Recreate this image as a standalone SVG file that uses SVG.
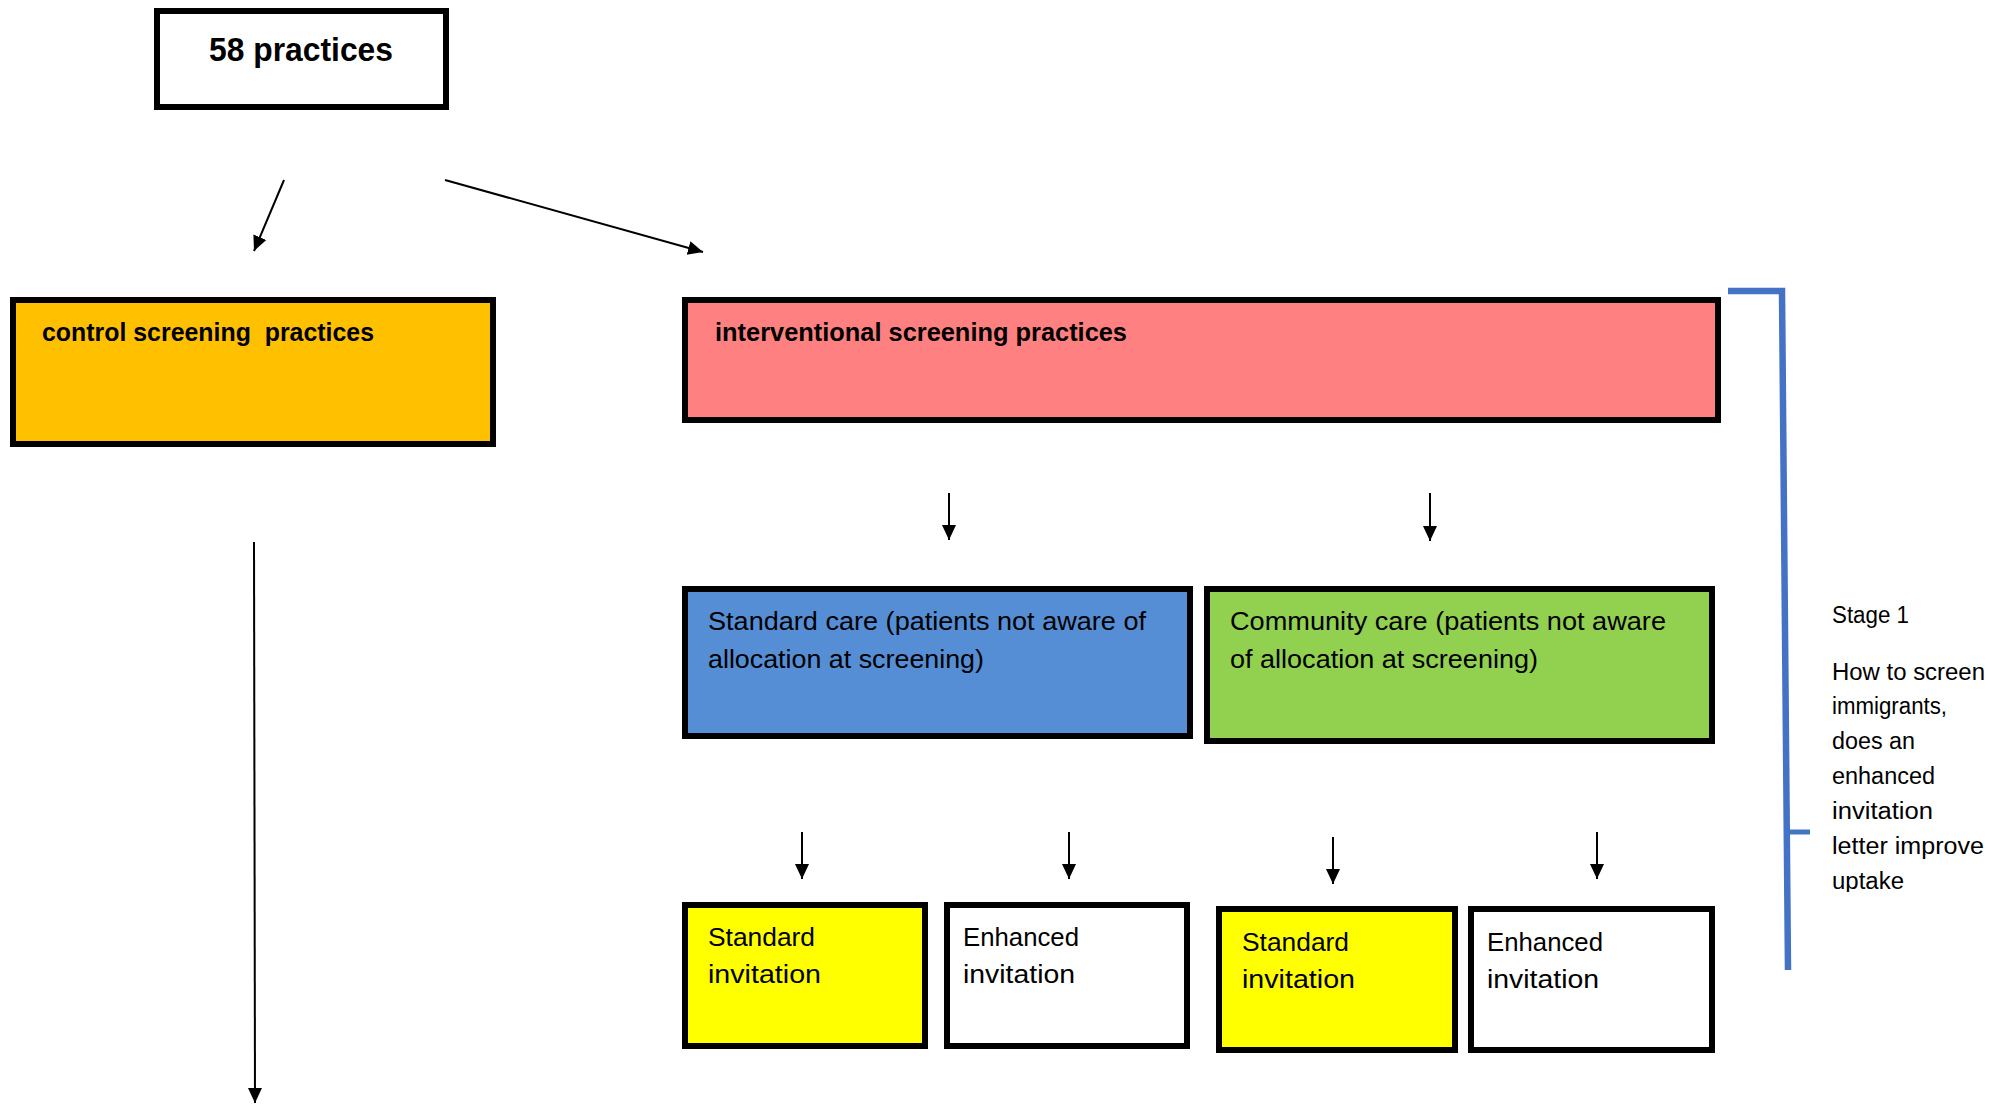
<svg xmlns="http://www.w3.org/2000/svg" width="1993" height="1105" viewBox="0 0 1993 1105">
<style>
.box{stroke:#000;stroke-width:6}
.t{font-family:"Liberation Sans",Arial,sans-serif;fill:#000;white-space:pre}
.b{font-weight:bold;font-size:26px}
.r{font-size:26.5px}
.s{font-size:23.5px}
.big{font-weight:bold;font-size:34px}
.con line{stroke:#000;stroke-width:2}
.br{stroke:#4472C4;fill:none}
</style>
<defs>
<marker id="ah" markerUnits="userSpaceOnUse" markerWidth="16" markerHeight="16" refX="15" refY="7" orient="auto" viewBox="0 0 16 14">
<path d="M0,0 L15,7 L0,14 z" fill="#000"/>
</marker>
<clipPath id="clipStage"><rect x="1820" y="590" width="173" height="302"/></clipPath>
</defs>
<rect width="1993" height="1105" fill="#fff"/>

<g id="n58">
<rect class="box" x="157" y="11" width="289" height="96" fill="#fff"/>
<text class="t big" x="209" y="61" textLength="184" lengthAdjust="spacingAndGlyphs">58 practices</text>
</g>

<g id="control">
<rect class="box" x="13" y="300" width="480" height="144" fill="#FFC000"/>
<text class="t b" x="42" y="341" textLength="332" lengthAdjust="spacingAndGlyphs" xml:space="preserve">control screening  practices</text>
</g>

<g id="interventional">
<rect class="box" x="685" y="300" width="1033" height="120" fill="#FF8080"/>
<text class="t b" x="715" y="341" textLength="412" lengthAdjust="spacingAndGlyphs">interventional screening practices</text>
</g>

<g id="standardCare">
<rect class="box" x="685" y="589" width="505" height="147" fill="#558ED5"/>
<text class="t r" x="708" y="630" textLength="438" lengthAdjust="spacingAndGlyphs">Standard care (patients not aware of</text>
<text class="t r" x="708" y="668" textLength="276" lengthAdjust="spacingAndGlyphs">allocation at screening)</text>
</g>

<g id="communityCare">
<rect class="box" x="1207" y="589" width="505" height="152" fill="#92D050"/>
<text class="t r" x="1230" y="630" textLength="436" lengthAdjust="spacingAndGlyphs">Community care (patients not aware</text>
<text class="t r" x="1230" y="668" textLength="308" lengthAdjust="spacingAndGlyphs">of allocation at screening)</text>
</g>

<g id="stdInv1">
<rect class="box" x="685" y="905" width="240" height="141" fill="#FFFF00"/>
<text class="t r" x="708" y="946" textLength="107" lengthAdjust="spacingAndGlyphs">Standard</text>
<text class="t r" x="708" y="983" textLength="113" lengthAdjust="spacingAndGlyphs">invitation</text>
</g>

<g id="enhInv1">
<rect class="box" x="947" y="905" width="240" height="141" fill="#fff"/>
<text class="t r" x="963" y="946" textLength="116" lengthAdjust="spacingAndGlyphs">Enhanced</text>
<text class="t r" x="963" y="983" textLength="112" lengthAdjust="spacingAndGlyphs">invitation</text>
</g>

<g id="stdInv2">
<rect class="box" x="1219" y="909" width="236" height="141" fill="#FFFF00"/>
<text class="t r" x="1242" y="951" textLength="107" lengthAdjust="spacingAndGlyphs">Standard</text>
<text class="t r" x="1242" y="988" textLength="113" lengthAdjust="spacingAndGlyphs">invitation</text>
</g>

<g id="enhInv2">
<rect class="box" x="1471" y="909" width="241" height="141" fill="#fff"/>
<text class="t r" x="1487" y="951" textLength="116" lengthAdjust="spacingAndGlyphs">Enhanced</text>
<text class="t r" x="1487" y="988" textLength="112" lengthAdjust="spacingAndGlyphs">invitation</text>
</g>

<g id="connectors" class="con">
<line x1="284" y1="180" x2="254" y2="251" marker-end="url(#ah)"/>
<line x1="445" y1="180" x2="703" y2="252" marker-end="url(#ah)"/>
<line x1="254" y1="542" x2="255" y2="1103" marker-end="url(#ah)"/>
<line x1="949" y1="493" x2="949" y2="540" marker-end="url(#ah)"/>
<line x1="1430" y1="493" x2="1430" y2="541" marker-end="url(#ah)"/>
<line x1="802" y1="832" x2="802" y2="879" marker-end="url(#ah)"/>
<line x1="1069" y1="832" x2="1069" y2="879" marker-end="url(#ah)"/>
<line x1="1333" y1="837" x2="1333" y2="884" marker-end="url(#ah)"/>
<line x1="1597" y1="832" x2="1597" y2="879" marker-end="url(#ah)"/>
</g>

<g id="stage1">
<polyline class="br" stroke-width="6.5" points="1728,291 1782,291 1788,970"/>
<line class="br" stroke-width="5" x1="1789" y1="832" x2="1810" y2="832"/>
<g clip-path="url(#clipStage)">
<text class="t s" x="1832" y="623" textLength="77" lengthAdjust="spacingAndGlyphs">Stage 1</text>
<text class="t s" x="1832" y="680" textLength="153" lengthAdjust="spacingAndGlyphs">How to screen</text>
<text class="t s" x="1832" y="714" textLength="115" lengthAdjust="spacingAndGlyphs">immigrants,</text>
<text class="t s" x="1832" y="749" textLength="83" lengthAdjust="spacingAndGlyphs">does an</text>
<text class="t s" x="1832" y="784" textLength="103" lengthAdjust="spacingAndGlyphs">enhanced</text>
<text class="t s" x="1832" y="819" textLength="101" lengthAdjust="spacingAndGlyphs">invitation</text>
<text class="t s" x="1832" y="854" textLength="152" lengthAdjust="spacingAndGlyphs">letter improve</text>
<text class="t s" x="1832" y="889" textLength="72" lengthAdjust="spacingAndGlyphs">uptake</text>
</g>
</g>
</svg>
